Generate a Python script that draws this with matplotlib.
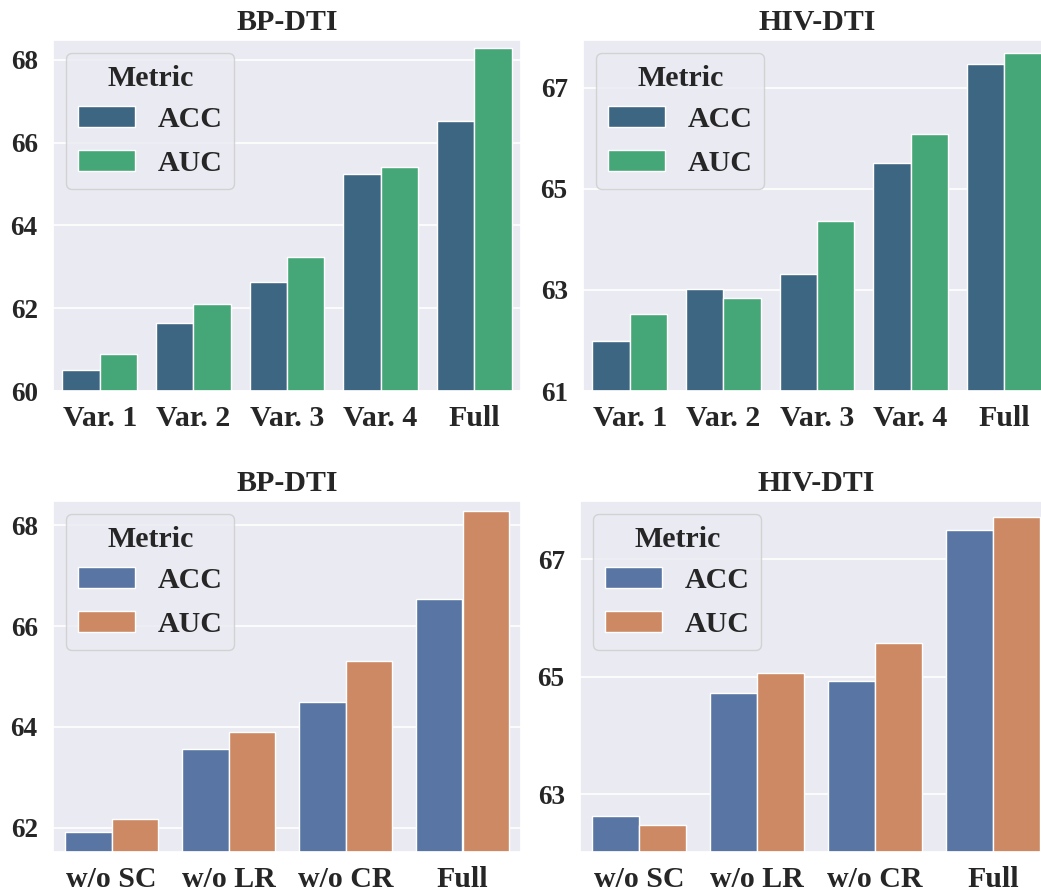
import matplotlib
matplotlib.use("Agg")
import matplotlib.pyplot as plt
import seaborn as sns
import numpy as np

# ---------------- data ----------------
var_labels = ["Var. 1", "Var. 2", "Var. 3", "Var. 4", "Full"]
abl_labels = ["w/o SC", "w/o LR", "w/o CR", "Full"]
metrics = ["ACC", "AUC"]

bp_var_acc = [60.50, 61.64, 62.63, 65.24, 66.53]
bp_var_auc = [60.89, 62.10, 63.24, 65.40, 68.28]
hiv_var_acc = [61.98, 63.01, 63.31, 65.50, 67.46]
hiv_var_auc = [62.52, 62.84, 64.37, 66.08, 67.69]

bp_abl_acc = [61.92, 63.56, 64.49, 66.54]
bp_abl_auc = [62.17, 63.89, 65.31, 68.28]
hiv_abl_acc = [62.63, 64.73, 64.92, 67.49]
hiv_abl_auc = [62.48, 65.06, 65.57, 67.72]

titles = ["BP-DTI", "HIV-DTI", "BP-DTI", "HIV-DTI"]

# ---------------- style ----------------
sns.set_theme(style="darkgrid")
plt.rcParams["font.family"] = ["Liberation Serif", "DejaVu Serif"]
plt.rcParams["font.weight"] = "bold"
plt.rcParams["text.color"] = "#262626"

viridis = [sns.desaturate(c, 0.75) for c in sns.color_palette("viridis", 2)]
deep = [sns.desaturate(c, 0.75) for c in sns.color_palette("deep", 2)]

W, H = 1041, 888
fig = plt.figure(figsize=(W / 100, H / 100), dpi=100)

def px_axes(l, t, r, b):
    return fig.add_axes([l / W, 1 - b / H, (r - l) / W, (b - t) / H])

panels = [
    (px_axes(53, 40, 521, 391), var_labels, bp_var_acc, bp_var_auc, viridis, (60, 68.48), [60, 62, 64, 66, 68]),
    (px_axes(583, 40, 1051, 391), var_labels, hiv_var_acc, hiv_var_auc, viridis, (61, 67.94), [61, 63, 65, 67]),
    (px_axes(53, 501, 521, 852), abl_labels, bp_abl_acc, bp_abl_auc, deep, (61.52, 68.48), [62, 64, 66, 68]),
    (px_axes(580, 501, 1052, 852), abl_labels, hiv_abl_acc, hiv_abl_auc, deep, (62.02, 67.99), [63, 65, 67]),
]

for i, (ax, cats, acc, auc, cols, ylim, yt) in enumerate(panels):
    x = np.arange(len(cats))
    w = 0.4
    ax.bar(x - w / 2, acc, w, color=cols[0], edgecolor="white", linewidth=1, label=metrics[0])
    ax.bar(x + w / 2, auc, w, color=cols[1], edgecolor="white", linewidth=1, label=metrics[1])
    ax.set_xlim(-0.5, len(cats) - 0.5)
    ax.set_ylim(*ylim)
    ax.set_yticks(yt)
    ax.set_xticks(x)
    ax.set_xticklabels(cats, fontsize=21.5, fontweight="bold")
    ax.set_yticklabels([str(v) for v in yt], fontsize=19.5, fontweight="bold")
    ax.grid(axis="x", visible=False)
    ax.grid(axis="y", color="white", linewidth=1.2)
    ax.tick_params(axis="x", pad=10, length=0)
    ax.tick_params(axis="y", pad=11, length=0)
    ax.set_title(titles[i], fontsize=21.5, fontweight="bold", pad=7)
    leg = ax.legend(title="Metric", loc="upper left", fontsize=21.5,
                    title_fontproperties={"size": 21.5, "weight": "bold"},
                    labelspacing=0.55, borderpad=0.4, handletextpad=0.75,
                    handlelength=1.9, borderaxespad=0.45, frameon=True)
    leg._legend_box.sep = 10
    for t in leg.get_texts():
        t.set_fontweight("bold")

fig.savefig("out.png", dpi=100)
